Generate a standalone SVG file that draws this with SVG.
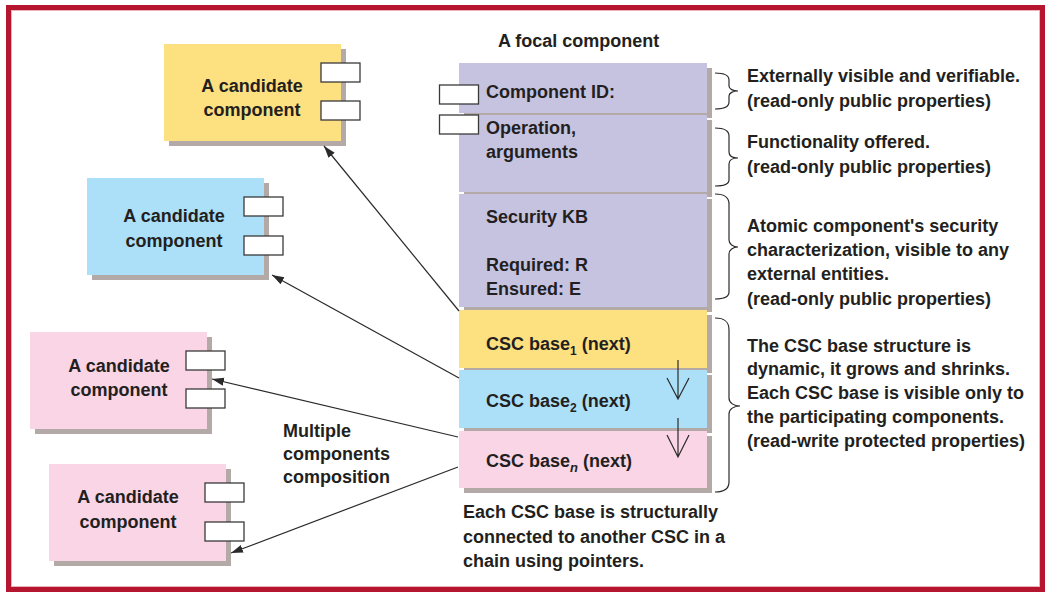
<svg xmlns="http://www.w3.org/2000/svg" width="1045" height="592" viewBox="0 0 1045 592">
<style>
text{font-family:"Liberation Sans",Arial,sans-serif;font-weight:bold;font-size:18px;fill:#231f20}
.cand{text-anchor:middle}
.shadow{fill:#b3a9a6}
.yel{fill:#fde07f}
.blu{fill:#abe0f8}
.pnk{fill:#f9d5e5}
.lav{fill:#c6c3e1}
.port{fill:#fff;stroke:#3a3a3a;stroke-width:1.3}
.conn{fill:none;stroke:#2a2a2a;stroke-width:1.2}
.brace{fill:none;stroke:#2a2a2a;stroke-width:1.2}
</style>
<defs>
<marker id="arr" markerUnits="userSpaceOnUse" markerWidth="13" markerHeight="9" refX="12" refY="4" orient="auto">
<path d="M0,0 L12,4 L0,8 z" fill="#2a2a2a"/>
</marker>
</defs>
<rect x="0" y="0" width="1045" height="592" fill="#fff"/>
<rect x="8.5" y="7.5" width="1034" height="582" fill="none" stroke="#b5152e" stroke-width="5"/>
<rect x="11.5" y="10.5" width="1028" height="576" fill="none" stroke="#eab3bd" stroke-width="1"/>

<g id="cand-yellow">
<rect class="shadow" x="169" y="49" width="177" height="97"/>
<rect class="yel" x="164" y="44" width="177" height="97"/>
<rect class="port" x="321" y="63" width="39" height="19"/>
<rect class="port" x="321" y="101" width="39" height="19"/>
<text class="cand" x="252" y="92">A candidate</text>
<text class="cand" x="252" y="116">component</text>
</g>

<g id="cand-blue">
<rect class="shadow" x="92" y="183" width="177" height="97"/>
<rect class="blu" x="87" y="178" width="177" height="97"/>
<rect class="port" x="244" y="197" width="39" height="19"/>
<rect class="port" x="244" y="236" width="39" height="19"/>
<text class="cand" x="174" y="222">A candidate</text>
<text class="cand" x="174" y="247">component</text>
</g>

<g id="cand-pink1">
<rect class="shadow" x="35" y="337" width="177" height="97"/>
<rect class="pnk" x="30" y="332" width="177" height="97"/>
<rect class="port" x="186" y="351" width="39" height="19"/>
<rect class="port" x="186" y="389" width="39" height="19"/>
<text class="cand" x="119" y="372">A candidate</text>
<text class="cand" x="119" y="396">component</text>
</g>

<g id="cand-pink2">
<rect class="shadow" x="54" y="469" width="177" height="97"/>
<rect class="pnk" x="49" y="464" width="177" height="97"/>
<rect class="port" x="205" y="483" width="39" height="19"/>
<rect class="port" x="205" y="522" width="39" height="19"/>
<text class="cand" x="128" y="503">A candidate</text>
<text class="cand" x="128" y="528">component</text>
</g>

<g id="focal">
<text x="498" y="47">A focal component</text>
<g id="sec-id">
<rect class="shadow" x="464" y="68" width="248" height="50"/>
<rect class="lav" x="459" y="63" width="248" height="50"/>
<text x="486" y="98">Component ID:</text>
</g>
<g id="sec-op">
<rect class="shadow" x="464" y="120" width="248" height="77"/>
<rect class="lav" x="459" y="115" width="248" height="77"/>
<text x="486" y="134">Operation,</text>
<text x="486" y="158">arguments</text>
</g>
<g id="sec-kb">
<rect class="shadow" x="464" y="199" width="248" height="113"/>
<rect class="lav" x="459" y="194" width="248" height="113"/>
<text x="486" y="223">Security KB</text>
<text x="486" y="271">Required: R</text>
<text x="486" y="295">Ensured: E</text>
</g>
<g id="csc1">
<rect class="shadow" x="464" y="315" width="248" height="58"/>
<rect class="yel" x="459" y="310" width="248" height="58"/>
<text x="486" y="350">CSC base<tspan font-size="12" dy="5">1</tspan><tspan dy="-5"> (next)</tspan></text>
</g>
<g id="csc2">
<rect class="shadow" x="464" y="375" width="248" height="58"/>
<rect class="blu" x="459" y="370" width="248" height="58"/>
<text x="486" y="407">CSC base<tspan font-size="12" dy="5">2</tspan><tspan dy="-5"> (next)</tspan></text>
</g>
<g id="cscn">
<rect class="shadow" x="464" y="436" width="248" height="57"/>
<rect class="pnk" x="459" y="431" width="248" height="57"/>
<text x="486" y="467">CSC base<tspan font-size="13" font-style="italic" dy="5">n</tspan><tspan dy="-5"> (next)</tspan></text>
</g>
<rect class="port" x="439.5" y="85" width="39" height="19"/>
<rect class="port" x="439.5" y="115" width="39" height="19"/>
</g>

<g id="connectors">
<path class="conn" d="M459,311 L324,146" marker-end="url(#arr)"/>
<path class="conn" d="M459,378 L272,275" marker-end="url(#arr)"/>
<path class="conn" d="M458,437 L212,379" marker-end="url(#arr)"/>
<path class="conn" d="M458,467 L231,553" marker-end="url(#arr)"/>
<path class="conn" d="M678,360 L678,399 M667,378 L678,399 L689,378"/>
<path class="conn" d="M678,418 L678,457 M667,435 L678,457 L689,435"/>
</g>

<g id="braces">
<path class="brace" d="M715,73 C724,73 729,75 729,80 L729,86 C729,89 733,91 738,91 C733,91 729,93 729,96 L729,102 C729,107 724,109 715,109"/>
<path class="brace" d="M715,128 C724,128 729,130 729,136 L729,152 C729,156 733,158 738,158 C733,158 729,160 729,164 L729,180 C729,184 724,186 715,186"/>
<path class="brace" d="M715,194 C724,194 729,197 729,204 L729,240 C729,244 733,247 738,247 C733,247 729,250 729,254 L729,292 C729,297 724,299 715,299"/>
<path class="brace" d="M715,318 C724,318 729,321 729,330 L729,398 C729,403 734,406 740,406 C734,406 729,409 729,414 L729,482 C729,489 724,492 715,492"/>
</g>

<g id="notes">
<text x="747" y="82">Externally visible and verifiable.</text>
<text x="747" y="107">(read-only public properties)</text>
<text x="747" y="148">Functionality offered.</text>
<text x="747" y="173">(read-only public properties)</text>
<text x="747" y="232">Atomic component's security</text>
<text x="747" y="256">characterization, visible to any</text>
<text x="747" y="280">external entities.</text>
<text x="747" y="305">(read-only public properties)</text>
<text x="747" y="352">The CSC base structure is</text>
<text x="747" y="375">dynamic, it grows and shrinks.</text>
<text x="747" y="399">Each CSC base is visible only to</text>
<text x="747" y="423">the participating components.</text>
<text x="747" y="447">(read-write protected properties)</text>
<text x="283" y="437">Multiple</text>
<text x="283" y="460">components</text>
<text x="283" y="483">composition</text>
<text x="463" y="518">Each CSC base is structurally</text>
<text x="463" y="543">connected to another CSC in a</text>
<text x="463" y="567">chain using pointers.</text>
</g>
</svg>
